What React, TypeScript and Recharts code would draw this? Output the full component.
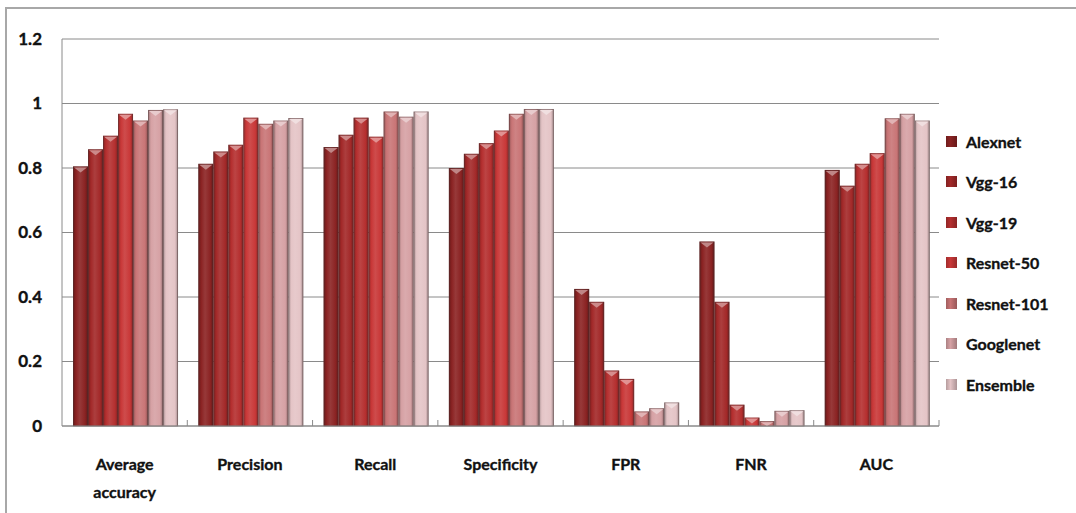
import React from 'react';
import { BarChart, Bar, XAxis, YAxis, CartesianGrid, Legend } from 'recharts';

// Metrics on the category axis
const metrics = ['Average accuracy', 'Precision', 'Recall', 'Specificity', 'FPR', 'FNR', 'AUC'];

// Scores per network, in metric order
const alexnet = [0.805, 0.813, 0.865, 0.8, 0.425, 0.572, 0.794];
const vgg16 = [0.858, 0.851, 0.903, 0.844, 0.385, 0.385, 0.745];
const vgg19 = [0.9, 0.872, 0.956, 0.877, 0.172, 0.066, 0.813];
const resnet50 = [0.968, 0.956, 0.897, 0.916, 0.146, 0.026, 0.846];
const resnet101 = [0.947, 0.937, 0.975, 0.968, 0.045, 0.015, 0.954];
const googlenet = [0.98, 0.947, 0.959, 0.983, 0.055, 0.047, 0.968];
const ensemble = [0.982, 0.955, 0.975, 0.983, 0.073, 0.049, 0.947];

const yTicks = [0, 0.2, 0.4, 0.6, 0.8, 1, 1.2];

const series = [
  { key: 'alexnet', name: 'Alexnet', values: alexnet, color: '#8b2323' },
  { key: 'vgg16', name: 'Vgg-16', values: vgg16, color: '#a32929' },
  { key: 'vgg19', name: 'Vgg-19', values: vgg19, color: '#b52f2f' },
  { key: 'resnet50', name: 'Resnet-50', values: resnet50, color: '#c93838' },
  { key: 'resnet101', name: 'Resnet-101', values: resnet101, color: '#c97576' },
  { key: 'googlenet', name: 'Googlenet', values: googlenet, color: '#d6a1a4' },
  { key: 'ensemble', name: 'Ensemble', values: ensemble, color: '#e4c4c6' },
];

const data = metrics.map((metric, i) => {
  const row: Record<string, any> = { metric };
  series.forEach((s) => {
    row[s.key] = s.values[i];
  });
  return row;
});

const W = 1076;
const H = 513;
const PLOT_LEFT = 62;
const PLOT_RIGHT = 939;
const BASE = 426;
const BAND = (PLOT_RIGHT - PLOT_LEFT) / metrics.length;
const FONT = 'Lato, "Open Sans", sans-serif';

const mix = (hex: string, to: string, t: number) => {
  const a = parseInt(hex.slice(1), 16);
  const b = parseInt(to.slice(1), 16);
  const ch = (v: number, s: number) => (v >> s) & 255;
  const c = [16, 8, 0].map((s) => Math.round(ch(a, s) + (ch(b, s) - ch(a, s)) * t));
  return `rgb(${c.join(',')})`;
};

// bar with a shaded body and a light chevron on top
const BevelBar = (props: any) => {
  const { x, y, width, height, sid, color } = props;
  if (!(height > 0)) return null;
  const tip = Math.min(6, height);
  return (
    <g>
      <rect x={x} y={y} width={width} height={height} fill={`url(#grad-${sid})`} />
      <rect
        x={x + 0.5}
        y={y + 0.5}
        width={width - 1}
        height={Math.max(height - 0.5, 0)}
        fill="none"
        stroke="rgba(70,50,50,0.45)"
        strokeWidth={1}
      />
      <polygon
        points={`${x + 1},${y + 1} ${x + width - 1},${y + 1} ${x + width / 2},${y + tip}`}
        fill={mix(color, '#ffffff', 0.45)}
      />
    </g>
  );
};

const YTick = ({ y, payload }: any) => (
  <text
    x={42}
    y={y}
    dy="0.35em"
    textAnchor="end"
    fontFamily={FONT}
    fontWeight={700}
    fontSize={17}
    fill="#111"
    stroke="#111"
    strokeWidth={0.35}
  >
    {payload.value}
  </text>
);

const XTick = ({ x, payload }: any) => {
  const lines = String(payload.value).split(' ');
  return (
    <g>
      <line x1={x + BAND / 2} x2={x + BAND / 2} y1={BASE - 6} y2={BASE} stroke="#8a8a8a" />
      {lines.map((l, i) => (
        <text
          key={i}
          x={x}
          y={470 + i * 28}
          textAnchor="middle"
          fontFamily={FONT}
          fontWeight={700}
          fontSize={16}
          fill="#111"
          stroke="#111"
          strokeWidth={0.35}
        >
          {l}
        </text>
      ))}
    </g>
  );
};

const LegendBox = () => (
  <div
    style={{
      fontFamily: FONT,
      fontWeight: 700,
      fontSize: 16,
      color: '#111',
      WebkitTextStroke: '0.35px #111',
    }}
  >
    {series.map((s) => (
      <div key={s.key} style={{ height: 40.5, display: 'flex', alignItems: 'center' }}>
        <span
          style={{
            width: 11,
            height: 11,
            marginRight: 9,
            background: `linear-gradient(90deg, ${mix(s.color, '#000000', 0.2)}, ${s.color} 40%, ${mix(s.color, '#000000', 0.25)})`,
          }}
        />
        {s.name}
      </div>
    ))}
  </div>
);

export default function App() {
  return (
    <div style={{ position: 'absolute', left: 0, top: 0, width: W, height: H, background: '#fff', overflow: 'hidden' }}>
      <div style={{ position: 'absolute', left: 5, top: 7, right: 0, height: 2, background: '#a8a8a8' }} />
      <div style={{ position: 'absolute', left: 5, top: 7, bottom: 0, width: 2, background: '#a8a8a8' }} />
      <svg width={0} height={0} style={{ position: 'absolute' }}>
        <defs>
          {series.map((s) => (
            <linearGradient key={s.key} id={`grad-${s.key}`} x1="0" y1="0" x2="1" y2="0">
              <stop offset="0" stopColor={mix(s.color, '#000000', 0.25)} />
              <stop offset="0.2" stopColor={s.color} />
              <stop offset="0.45" stopColor={mix(s.color, '#ffffff', 0.1)} />
              <stop offset="0.8" stopColor={s.color} />
              <stop offset="1" stopColor={mix(s.color, '#000000', 0.3)} />
            </linearGradient>
          ))}
        </defs>
      </svg>
      <BarChart
        width={W}
        height={H}
        data={data}
        margin={{ top: 39, right: W - PLOT_RIGHT, bottom: 7, left: 0 }}
        barCategoryGap="8.8%"
        barGap={0}
        style={{ position: 'absolute', left: 0, top: 0 }}
      >
        <CartesianGrid vertical={false} stroke="#8a8a8a" />
        <XAxis
          dataKey="metric"
          height={80}
          axisLine={{ stroke: '#8a8a8a' }}
          tickLine={false}
          tick={<XTick />}
          interval={0}
        />
        <YAxis
          width={PLOT_LEFT}
          domain={[0, 1.2]}
          ticks={yTicks}
          axisLine={{ stroke: '#8a8a8a' }}
          tickLine={false}
          tick={<YTick />}
        />
        <Legend
          layout="vertical"
          align="center"
          verticalAlign="middle"
          content={<LegendBox />}
          wrapperStyle={{ left: 946, top: 121, width: 128 }}
        />
        {series.map((s) => (
          <Bar
            key={s.key}
            dataKey={s.key}
            name={s.name}
            fill={s.color}
            isAnimationActive={false}
            shape={(p: any) => <BevelBar {...p} sid={s.key} color={s.color} />}
          />
        ))}
      </BarChart>
    </div>
  );
}
